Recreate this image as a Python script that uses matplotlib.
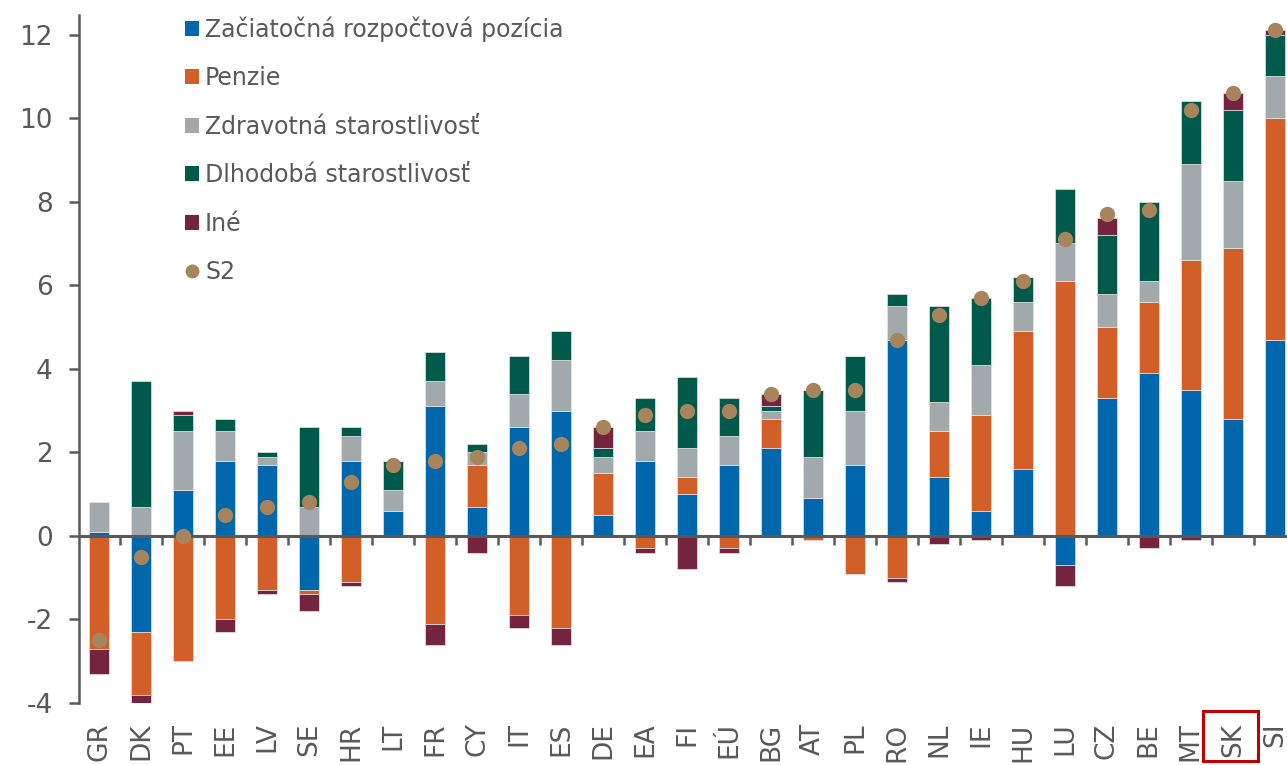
import matplotlib
matplotlib.use("Agg")
import matplotlib.pyplot as plt
import numpy as np
from matplotlib.patches import Patch, Rectangle
from matplotlib.lines import Line2D
import matplotlib.transforms as mtransforms

countries = ["GR", "DK", "PT", "EE", "LV", "SE", "HR", "LT", "FR", "CY", "IT", "ES", "DE", "EA",
             "FI", "EÚ", "BG", "AT", "PL", "RO", "NL", "IE", "HU", "LU", "CZ", "BE", "MT", "SK", "SI"]

zaciatocna = [0.1, -2.3, 1.1, 1.8, 1.7, -1.3, 1.8, 0.6, 3.1, 0.7, 2.6, 3.0, 0.5, 1.8,
              1.0, 1.7, 2.1, 0.9, 1.7, 4.7, 1.4, 0.6, 1.6, -0.7, 3.3, 3.9, 3.5, 2.8, 4.7]
penzie = [-2.7, -1.5, -3.0, -2.0, -1.3, -0.1, -1.1, 0.0, -2.1, 1.0, -1.9, -2.2, 1.0, -0.3,
          0.4, -0.3, 0.7, -0.1, -0.9, -1.0, 1.1, 2.3, 3.3, 6.1, 1.7, 1.7, 3.1, 4.1, 5.3]
zdravotna = [0.7, 0.7, 1.4, 0.7, 0.2, 0.7, 0.6, 0.5, 0.6, 0.3, 0.8, 1.2, 0.4, 0.7,
             0.7, 0.7, 0.2, 1.0, 1.3, 0.8, 0.7, 1.2, 0.7, 0.9, 0.8, 0.5, 2.3, 1.6, 1.0]
dlhodoba = [0.0, 3.0, 0.4, 0.3, 0.1, 1.9, 0.2, 0.7, 0.7, 0.2, 0.9, 0.7, 0.2, 0.8,
            1.7, 0.9, 0.1, 1.6, 1.3, 0.3, 2.3, 1.6, 0.6, 1.3, 1.4, 1.9, 1.5, 1.7, 1.0]
ine = [-0.6, -0.25, 0.1, -0.3, -0.1, -0.4, -0.1, 0.0, -0.5, -0.4, -0.3, -0.4, 0.5, -0.1,
       -0.8, -0.1, 0.3, 0.0, 0.0, -0.1, -0.2, -0.1, 0.0, -0.5, 0.4, -0.3, -0.1, 0.4, 0.1]
s2 = [-2.5, -0.5, 0.0, 0.5, 0.7, 0.8, 1.3, 1.7, 1.8, 1.9, 2.1, 2.2, 2.6, 2.9,
      3.0, 3.0, 3.4, 3.5, 3.5, 4.7, 5.3, 5.7, 6.1, 7.1, 7.7, 7.8, 10.2, 10.6, 12.1]

series_labels = ["Začiatočná rozpočtová pozícia", "Penzie", "Zdravotná starostlivosť",
                 "Dlhodobá starostlivosť", "Iné"]
series_values = [zaciatocna, penzie, zdravotna, dlhodoba, ine]
series_colors = ["#0067AC", "#D25F27", "#A2A9AD", "#005A4B", "#74243E"]
s2_label = "S2"
s2_color = "#A8845C"
highlight = "SK"

text_color = "#595959"

fig = plt.figure(figsize=(12.87, 7.65), dpi=100)
ax = fig.add_axes([79 / 1287, 62 / 765, 1 - 79 / 1287, 1 - 62 / 765 - 15 / 765])

x = np.arange(len(countries))
pos_bottom = np.zeros(len(countries))
neg_bottom = np.zeros(len(countries))
for vals, col in zip(series_values, series_colors):
    v = np.array(vals, dtype=float)
    bottoms = np.where(v >= 0, pos_bottom, neg_bottom)
    ax.bar(x, v, width=0.48, bottom=bottoms, color=col, edgecolor="#e6e6e6",
           linewidth=0.5, zorder=2)
    pos_bottom = pos_bottom + np.where(v > 0, v, 0)
    neg_bottom = neg_bottom + np.where(v < 0, v, 0)

ax.plot(x, s2, linestyle="none", marker="o", ms=11, color=s2_color,
        markeredgewidth=0, zorder=5)

ax.axhline(0, color=text_color, lw=2.2, zorder=4)
ax.vlines(x[:-1] + 0.5, -0.22, 0, color=text_color, lw=1.8, zorder=4)

ax.set_xlim(-0.48, len(countries) - 1 + 0.29)
ax.set_ylim(-4, 12.47)
ax.set_yticks(np.arange(-4, 13, 2))
ax.set_yticklabels([str(int(t)) for t in np.arange(-4, 13, 2)])
ax.set_xticks(x)
ax.set_xticklabels(countries, rotation=90)

for s in ["top", "right", "bottom"]:
    ax.spines[s].set_visible(False)
ax.spines["left"].set_color(text_color)
ax.spines["left"].set_linewidth(1.8)
ax.spines["left"].set_bounds(-4, 12.47)

ax.tick_params(axis="y", direction="out", length=7, width=1.8, color=text_color,
               labelcolor=text_color, labelsize=19, pad=12)
ax.tick_params(axis="x", length=0, labelcolor=text_color, labelsize=19, pad=14)

# highlight box around SK label
hi = countries.index(highlight)
trans = mtransforms.blended_transform_factory(ax.transData, fig.transFigure)
rect = Rectangle((hi - 0.7, 4 / 765), 1.29, 50 / 765, transform=trans, fill=False,
                 edgecolor="#C00000", lw=2.2, clip_on=False)
fig.add_artist(rect)

handles = [Patch(facecolor=c, edgecolor="none") for c in series_colors]
handles.append(Line2D([0], [0], linestyle="none", marker="o", ms=10, color=s2_color,
                      markeredgewidth=0))
labels = series_labels + [s2_label]
leg = fig.legend(handles, labels, loc="upper left", bbox_to_anchor=(185 / 1287, 1 - 16 / 765),
                 frameon=False, fontsize=17, handlelength=0.6, handleheight=0.6,
                 handletextpad=0.25, labelspacing=1.04, borderpad=0, borderaxespad=0)
for t in leg.get_texts():
    t.set_color(text_color)

fig.savefig("out.png", dpi=100)
